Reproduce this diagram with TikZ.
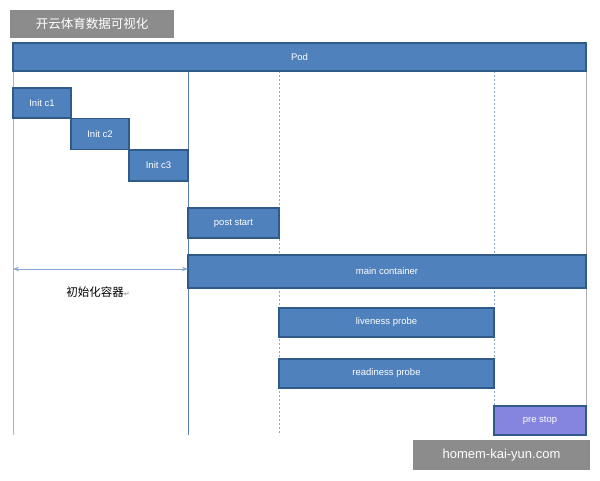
\documentclass[tikz,border=0pt]{standalone}
\usepackage{fontspec}
\setmainfont{Liberation Sans}
\newfontfamily\cjk{Noto Sans CJK SC}
\newfontfamily\dejavu{DejaVu Sans}
\usetikzlibrary{arrows.meta}
\definecolor{bfill}{HTML}{4F81BD}
\definecolor{bdraw}{HTML}{2F5A8A}
\definecolor{pfill}{HTML}{8585E0}
\definecolor{wm}{HTML}{8C8C8C}
\begin{document}
\begin{tikzpicture}[x=1pt,y=-1pt,
  bar/.style={draw=bdraw,line width=1.2pt,fill=bfill,text=white,font=\fontsize{9.5}{11}\selectfont},
  vl/.style={draw=gray!60,line width=0.6pt},
  dl/.style={draw=bfill!70,line width=0.6pt,dash pattern=on 2pt off 2pt},
  wmbox/.style={fill=wm,text=white,inner sep=0pt}]
\useasboundingbox[fill=white] (0,0) rectangle (600,480);
\draw[vl] (13,71) -- (13,435);
\draw[draw=bfill!80!gray,line width=0.7pt] (188,71) -- (188,435);
\draw[dl] (279,71) -- (279,435);
\draw[dl] (494,71) -- (494,435);
\draw[vl] (586,71) -- (586,435);
\node[bar,minimum width=573pt,minimum height=28pt] (pod) at (299.5,57) {Pod};
\node[bar,minimum width=58pt,minimum height=30pt] (c1) at (42,103) {Init c1};
\node[bar,minimum width=58pt,minimum height=31pt] (c2) at (100,134) {Init c2};
\node[bar,minimum width=59pt,minimum height=31pt] (c3) at (158.5,165.5) {Init c3};
\node[bar,minimum width=91pt,minimum height=30pt] (ps) at (233.5,223) {post start};
\node[bar,minimum width=398pt,minimum height=33pt] (mc) at (387,271.5) {main container};
\node[bar,minimum width=215pt,minimum height=29pt] (lp) at (386.5,322.5) {liveness probe};
\node[bar,minimum width=215pt,minimum height=29pt] (rp) at (386.5,373.5) {readiness probe};
\node[bar,fill=pfill,draw=bdraw,minimum width=92pt,minimum height=29pt] (pst) at (540,420.5) {pre stop};
\coordinate (al) at (13,269);
\coordinate (ar) at (188,269);
\draw[bfill!70,line width=0.7pt,{Stealth[length=6pt]}-{Stealth[length=6pt]}] (al) -- (ar);
\node[font=\cjk\fontsize{11.5}{13}\selectfont] (lab) at (98,292) {初始化容器\textcolor{gray}{\dejavu\fontsize{7}{8}\selectfont ↵}};
\node[wmbox,minimum width=164pt,minimum height=28pt,font=\cjk\fontsize{12.5}{14}\selectfont] (w1) at (92,24) {开云体育数据可视化};
\node[wmbox,minimum width=177pt,minimum height=30pt,font=\fontsize{13}{15}\selectfont] (w2) at (501.5,455) {homem-kai-yun.com};
\end{tikzpicture}
\end{document}
